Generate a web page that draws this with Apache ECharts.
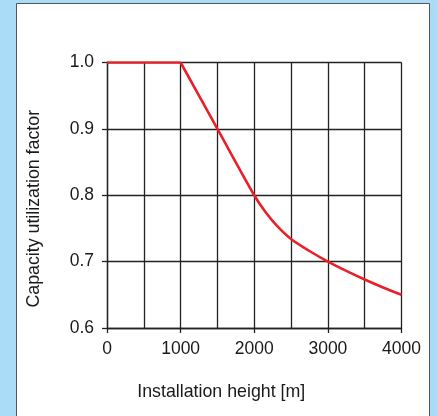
<!DOCTYPE html>
<html>
<head>
<meta charset="utf-8">
<script src="https://cdn.jsdelivr.net/npm/echarts@6/dist/echarts.min.js"></script>
<style>
html,body{margin:0;padding:0;background:#abdcf7;}
#c{width:437px;height:416px;}
</style>
</head>
<body>
<div id="c"></div>
<script>
var heights = [0, 1000, 1500, 2000, 2150, 2300, 2500, 2750, 3000, 3250, 3500, 3750, 4000];
var factors = [1.0, 1.0, 0.9, 0.8, 0.775, 0.755, 0.734, 0.716, 0.7, 0.686, 0.673, 0.661, 0.65];
var xTickLabels = ['0', '1000', '2000', '3000', '4000'];
var yTickLabels = ['0.6', '0.7', '0.8', '0.9', '1.0'];

var font = '"Liberation Sans", Arial, Helvetica, sans-serif';
var gridStyle = { color: '#222', width: 1.3 };
var pts = heights.map(function (h, i) { return [h, factors[i]]; });
var flatPart = pts.filter(function (p) { return p[0] <= 1000; });
var dropPart = pts.filter(function (p) { return p[0] >= 1000; });
var redLine = { color: '#e8202a', width: 2.6 };

var chart = echarts.init(document.getElementById('c'), null, { renderer: 'canvas' });
chart.setOption({
  backgroundColor: '#abdcf7',
  animation: false,
  graphic: [{
    type: 'rect', z: -10, silent: true,
    shape: { x: 16.5, y: 3.5, width: 413, height: 430 },
    style: { fill: '#ffffff', stroke: '#555', lineWidth: 1 }
  }],
  grid: { left: 107, right: 35.5, top: 62.5, bottom: 88, containLabel: false },
  xAxis: {
    type: 'value', min: 0, max: 4000, interval: 1000,
    name: 'Installation height [m]', nameLocation: 'middle', nameGap: 55,
    nameTextStyle: { fontFamily: font, fontSize: 17.8, color: '#1a1a1a', padding: [0, 66, 0, 0] },
    axisLine: { show: true, onZero: false, lineStyle: gridStyle },
    axisTick: { show: true, inside: false, length: 5, lineStyle: gridStyle },
    axisLabel: { margin: 12, fontFamily: font, fontSize: 17.5, color: '#1a1a1a',
      formatter: function (v) { var i = xTickLabels.indexOf(String(v)); return i >= 0 ? xTickLabels[i] : ''; } },
    splitLine: { show: true, lineStyle: gridStyle },
    minorTick: { show: false, splitNumber: 2 },
    minorSplitLine: { show: true, lineStyle: gridStyle }
  },
  yAxis: {
    type: 'value', min: 0.6, max: 1.0, interval: 0.1,
    name: 'Capacity utilization factor', nameLocation: 'middle', nameGap: 64, nameRotate: 90,
    nameTextStyle: { fontFamily: font, fontSize: 17.8, color: '#1a1a1a', padding: [0, 27, 0, 0] },
    axisLine: { show: true, onZero: false, lineStyle: gridStyle },
    axisTick: { show: true, inside: false, length: 5, lineStyle: gridStyle },
    axisLabel: { margin: 13, fontFamily: font, fontSize: 17.5, color: '#1a1a1a',
      formatter: function (v) { var s = v.toFixed(1); return yTickLabels.indexOf(s) >= 0 ? s : ''; } },
    splitLine: { show: true, lineStyle: gridStyle }
  },
  series: [{
    type: 'line', data: flatPart, showSymbol: false, symbol: 'none',
    smooth: false, lineStyle: redLine, z: 5
  }, {
    type: 'line', data: dropPart, showSymbol: false, symbol: 'none',
    smooth: 0.3, lineStyle: redLine, z: 5
  }]
});
</script>
</body>
</html>
